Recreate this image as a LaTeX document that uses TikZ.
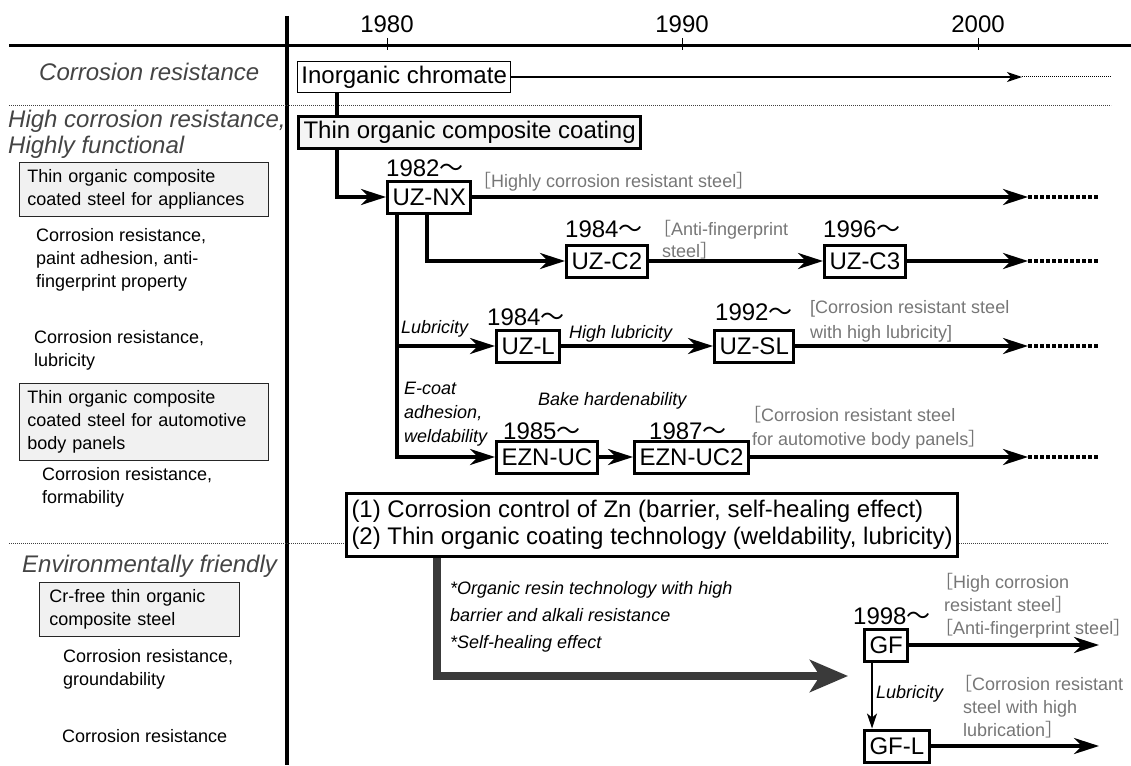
\documentclass[tikz,border=0pt]{standalone}
\usepackage{fontspec}
\setmainfont{Liberation Sans}
\newfontfamily\cjk{Noto Sans CJK JP}
\usepackage{xcolor}
\usepackage{tikz}
\usetikzlibrary{arrows.meta, calc}
\definecolor{catgray}{RGB}{68, 68, 68}
\definecolor{notegray}{RGB}{118, 118, 118}
\definecolor{gradefill}{RGB}{241, 241, 241}
\definecolor{techarrow}{RGB}{58, 58, 58}
\newcommand{\bigtxt}{\fontsize{24}{27}\selectfont}
\newcommand{\smalltxt}{\fontsize{18}{23}\selectfont}
\newcommand{\fromyr}{{\cjk ～}}
\newcommand{\lbr}{{\cjk\hspace*{-0.5em}［}}
\newcommand{\rbr}{{\cjk ］\kern-0.4em}}
\tikzset{
  axis/.style={line width=3.5pt},
  prod/.style={draw, line width=3pt, fill=white, font=\bigtxt, inner xsep=5pt, inner ysep=0pt, minimum height=32pt, anchor=west},
  era/.style={font=\bigtxt, inner sep=0pt, anchor=base west},
  cat/.style={font=\bigtxt\itshape, text=catgray, inner sep=0pt, anchor=base west},
  grade/.style={draw=black!85, line width=0.8pt, fill=gradefill, font=\smalltxt, align=left, anchor=north west, text width=233pt, inner xsep=8pt, inner ysep=7pt},
  prop/.style={font=\smalltxt, inner sep=0pt, anchor=north west, align=left},
  note/.style={font=\smalltxt, text=notegray, inner sep=0pt, anchor=north west, align=left},
  cue/.style={font=\smalltxt\itshape, inner sep=0pt, anchor=north west, align=left},
  link/.style={line width=3.5pt},
  flow/.style={line width=3.5pt, -{Stealth[length=25pt, width=16pt, inset=8pt]}},
  thinflow/.style={line width=1.2pt, -{Stealth[length=15pt, width=10pt, inset=4pt]}},
  techflow/.style={line width=8pt, draw=techarrow, -{Stealth[length=38pt, width=32pt, inset=10pt]}},
  tail/.style={line width=3.5pt, dash pattern=on 3.5pt off 2.5pt},
  thintail/.style={line width=1pt, dash pattern=on 1pt off 1pt},
  sepline/.style={line width=0.8pt, draw=black!75, dash pattern=on 0.8pt off 1.2pt}
}

\begin{document}
\begin{tikzpicture}[x=1pt, y=-1pt]
    \useasboundingbox (0,0) rectangle (1131,765);

    % time axis
    \draw[axis] (9,45.5) -- (1131,45.5);
    \draw[axis] (287,16) -- (287,765);
    \foreach \yr/\xx in {1980/387, 1990/682, 2000/978} {
        \draw[line width=0.8pt] (\xx,38) -- (\xx,50);
        \node[era, anchor=base] (yr\yr) at (\xx,33) {\yr};
    }
    \draw[sepline] (9,105.5) -- (1111,105.5);
    \draw[sepline] (9,543) -- (1108,543);

    % left column
    \node[cat] (catbase) at (39,81) {Corrosion resistance};
    \node[cat, anchor=north west, align=left, font=\fontsize{24}{26}\selectfont\itshape] (cathigh) at (8,109.5) {High corrosion resistance,\\Highly functional};
    \node[grade] (appl) at (19,162) {Thin organic composite\\coated steel for appliances};
    \node[prop] (applprop) at (36,228) {Corrosion resistance,\\paint adhesion, anti-\\fingerprint property};
    \node[prop] (lubprop) at (34,330) {Corrosion resistance,\\lubricity};
    \node[grade] (auto) at (19,383) {Thin organic composite\\coated steel for automotive\\body panels};
    \node[prop] (autoprop) at (42,467) {Corrosion resistance,\\formability};
    \node[cat] (catenv) at (22,572) {Environmentally friendly};
    \node[grade, text width=180pt, inner xsep=10pt] (crfree) at (39,582) {Cr-free thin organic\\composite steel};
    \node[prop] (gfprop) at (63,649) {Corrosion resistance,\\groundability};
    \node[prop, anchor=base west] (gflprop) at (62,742) {Corrosion resistance};

    % products
    \node[prod, line width=0.9pt, minimum height=31pt, inner xsep=4pt] (inorg) at (297,77) {Inorganic chromate};
    \node[prod, fill=black!4] (thinorg) at (297,132.5) {Thin organic composite coating};
    \node[prod] (uznx) at (386,197) {UZ-NX};
    \node[prod] (uzc2) at (565,261) {UZ-C2};
    \node[prod] (uzc3) at (823,261) {UZ-C3};
    \node[prod] (uzl) at (495,346) {UZ-L};
    \node[prod] (uzsl) at (713,346) {UZ-SL};
    \node[prod] (eznuc) at (495,457) {EZN-UC};
    \node[prod] (eznuc2) at (633,457) {EZN-UC2};
    \node[prod, align=left, minimum height=0pt, inner ysep=7pt] (tech) at (345,525) {(1) Corrosion control of Zn (barrier, self-healing effect)\\(2) Thin organic coating technology (weldability, lubricity)};
    \node[prod] (gf) at (863,645) {GF};
    \node[prod] (gfl) at (863,746) {GF-L};

    % launch years
    \node[era] (y82) at (386,176) {1982\fromyr};
    \node[era] (y84a) at (565,237) {1984\fromyr};
    \node[era] (y96) at (823,237) {1996\fromyr};
    \node[era] (y84b) at (487,325) {1984\fromyr};
    \node[era] (y92) at (715,320) {1992\fromyr};
    \node[era] (y85) at (503,439) {1985\fromyr};
    \node[era] (y87) at (649,439) {1987\fromyr};
    \node[era] (y98) at (853,624) {1998\fromyr};

    % property cues
    \node[cue, anchor=base west] (lubcue) at (401,333) {Lubricity};
    \node[cue, anchor=base west] (hilubcue) at (569,338) {High lubricity};
    \node[cue, font=\fontsize{18}{24}\selectfont\itshape] (ecoatcue) at (404,382) {E-coat\\adhesion,\\weldability};
    \node[cue, anchor=base west] (bakecue) at (538,405) {Bake hardenability};
    \node[cue, font=\fontsize{18}{27}\selectfont\itshape] (techcue) at (450,581) {*Organic resin technology with high\\barrier and alkali resistance\\*Self-healing effect};
    \node[cue, anchor=base west] (gflcue) at (876,698) {Lubricity};

    % application notes
    \node[note, anchor=base west] (nxnote) at (482,187) {\lbr Highly corrosion resistant steel\rbr};
    \node[note, font=\fontsize{18}{22}\selectfont] (c2note) at (662,220) {\lbr Anti-fingerprint\\steel\rbr};
    \node[note, font=\fontsize{18}{25}\selectfont] (slnote) at (810,300) {[Corrosion resistant steel\\with high lubricity]};
    \node[note, font=\fontsize{18}{24}\selectfont] (ucnote) at (752,406) {\lbr Corrosion resistant steel\\for automotive body panels\rbr};
    \node[note] (gfnote) at (944,573) {\lbr High corrosion\\resistant steel\rbr\\\lbr Anti-fingerprint steel\rbr};
    \node[note] (gflnote) at (963,675) {\lbr Corrosion resistant\\steel with high\\lubrication\rbr};

    % branch points and open ends
    \coordinate (trunk) at (337,0);
    \coordinate (c2branch) at (427,0);
    \coordinate (lubbranch) at (397,0);
    \coordinate (techdrop) at (437,0);
    \coordinate (gfdrop) at (872,0);
    \coordinate (inorgend) at (1022,77);
    \coordinate (inorgdot) at (1111,77);
    \coordinate (nxend) at (1028,197);
    \coordinate (nxdot) at (1098,197);
    \coordinate (c3end) at (1028,261);
    \coordinate (c3dot) at (1098,261);
    \coordinate (slend) at (1028,346);
    \coordinate (sldot) at (1098,346);
    \coordinate (ucend) at (1028,457);
    \coordinate (ucdot) at (1098,457);
    \coordinate (techend) at (848,676);
    \coordinate (gfend) at (1099,645);
    \coordinate (gflend) at (1099,746);

    % connectors
    \draw[thinflow] (inorg.east) -- (inorgend);
    \draw[thintail] (inorgend) -- (inorgdot);
    \draw[link] (inorg.south -| trunk) -- (thinorg.north -| trunk);
    \draw[flow] (thinorg.south -| trunk) |- (uznx.west);
    \draw[flow] (uznx.east) -- (nxend);
    \draw[tail] (nxend) -- (nxdot);
    \draw[flow] (uznx.south -| c2branch) |- (uzc2.west);
    \draw[flow] (uzc2) -- (uzc3);
    \draw[flow] (uzc3) -- (c3end);
    \draw[tail] (c3end) -- (c3dot);
    \draw[flow] (uznx.south -| lubbranch) |- (eznuc.west);
    \draw[flow] (uzl.west -| lubbranch) -- (uzl.west);
    \draw[flow] (uzl) -- (uzsl);
    \draw[flow] (uzsl) -- (slend);
    \draw[tail] (slend) -- (sldot);
    \draw[flow] (eznuc) -- (eznuc2);
    \draw[flow] (eznuc2) -- (ucend);
    \draw[tail] (ucend) -- (ucdot);
    \draw[techflow] (tech.south -| techdrop) |- (techend);
    \draw[flow] (gf) -- (gfend);
    \draw[flow] (gfl) -- (gflend);
    \draw[thinflow] (gf.south -| gfdrop) -- (gfl.north -| gfdrop);
\end{tikzpicture}
\end{document}
